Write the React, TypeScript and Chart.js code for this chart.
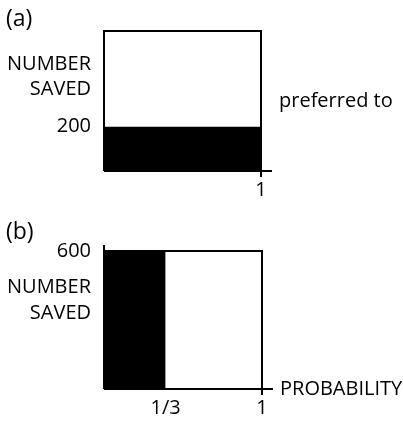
import React, { useEffect, useRef } from "react";
import { Chart, registerables } from "chart.js";

Chart.register(...registerables);

// ---- data ----
const PROB_RANGE = [0, 1];
const A_SAVED = [200];          // option (a): 200 saved for sure
const A_PROB = [1];             // probability 1
const A_FRAME_MAX = 632;        // top of the outline frame in (a)
const B_SAVED = [600];          // option (b): 600 saved
const B_PROB = [0.39];          // with probability ~1/3 (as drawn)
const A_Y_TICKS = ["200"];
const B_Y_TICKS = ["600"];
const A_X_TICKS = [{ value: 1, label: "1" }];
const B_X_TICKS = [
  { value: 0.39, label: "1/3" },
  { value: 1, label: "1" },
];

const FONT = "'Open Sans', 'DejaVu Sans', sans-serif";

type PanelSpec = {
  saved: number[];
  prob: number[];
  yMax: number;
  yTicks: string[];
  xTicks: { value: number; label: string }[];
  padding: { left: number; top: number; right: number; bottom: number };
  letter: string;
  letterY: number;
  nameYOffsets: number[];
  sideLabel: string;
  sideY: "mid" | "bottom";
  leftAxisExt: number;
};

const PANELS: PanelSpec[] = [
  {
    saved: A_SAVED,
    prob: A_PROB,
    yMax: A_FRAME_MAX,
    yTicks: A_Y_TICKS,
    xTicks: A_X_TICKS,
    padding: { left: 104, top: 31, right: 142, bottom: 254 },
    letter: "(a)",
    letterY: 19,
    nameYOffsets: [64, 89],
    sideLabel: "preferred to",
    sideY: "mid",
    leftAxisExt: 0,
  },
  {
    saved: B_SAVED,
    prob: B_PROB,
    yMax: B_SAVED[0],
    yTicks: B_Y_TICKS,
    xTicks: B_X_TICKS,
    padding: { left: 104, top: 251, right: 141, bottom: 36 },
    letter: "(b)",
    letterY: 232,
    nameYOffsets: [287, 313],
    sideLabel: "PROBABILITY",
    sideY: "bottom",
    leftAxisExt: 6,
  },
];

function makeChart(canvas: HTMLCanvasElement, p: PanelSpec) {
  const labelsPlugin = {
    id: "labels" + p.letter,
    afterDraw(chart: any) {
      const ctx = chart.ctx as CanvasRenderingContext2D;
      const area = chart.chartArea;
      const xs = chart.scales.x;
      const ys = chart.scales.y;
      ctx.save();
      ctx.strokeStyle = "#000";
      ctx.lineWidth = 2;
      // axis extensions and ticks
      const tx = xs.getPixelForValue(PROB_RANGE[1]);
      ctx.beginPath();
      ctx.moveTo(tx, area.bottom);
      ctx.lineTo(tx + 11, area.bottom);
      ctx.stroke();
      ctx.beginPath();
      ctx.moveTo(tx, area.bottom);
      ctx.lineTo(tx, area.bottom + 6);
      ctx.stroke();
      if (p.leftAxisExt) {
        ctx.beginPath();
        ctx.moveTo(area.left, area.top);
        ctx.lineTo(area.left, area.top - p.leftAxisExt);
        ctx.stroke();
      }
      ctx.fillStyle = "#000";
      ctx.textBaseline = "middle";
      // letter
      ctx.font = `23px ${FONT}`;
      ctx.textAlign = "left";
      ctx.fillText(p.letter, 6, p.letterY);
      ctx.font = `20px ${FONT}`;
      // y labels
      ctx.textAlign = "right";
      ctx.fillText("NUMBER", area.left - 13, p.nameYOffsets[0]);
      ctx.fillText("SAVED", area.left - 13, p.nameYOffsets[1]);
      p.yTicks.forEach((t) => {
        ctx.fillText(t, area.left - 13, ys.getPixelForValue(Number(t)));
      });
      // x labels
      ctx.textAlign = "center";
      p.xTicks.forEach((t) => {
        ctx.fillText(t.label, xs.getPixelForValue(t.value), area.bottom + 19);
      });
      // side label
      ctx.textAlign = "left";
      const sy = p.sideY === "mid" ? (area.top + area.bottom) / 2 : area.bottom;
      ctx.fillText(p.sideLabel, area.right + 18, sy);
      ctx.restore();
    },
  };

  return new Chart(canvas, {
    type: "scatter",
    data: {
      datasets: [
        {
          label: "frame",
          data: [
            { x: PROB_RANGE[0], y: 0 },
            { x: PROB_RANGE[0], y: p.yMax },
            { x: PROB_RANGE[1], y: p.yMax },
            { x: PROB_RANGE[1], y: 0 },
            { x: PROB_RANGE[0], y: 0 },
          ],
          showLine: true,
          borderColor: "#000",
          borderWidth: 2,
          pointRadius: 0,
          fill: false,
          clip: false,
        } as any,
        {
          label: "saved",
          data: [
            { x: PROB_RANGE[0], y: p.saved[0] },
            { x: p.prob[0], y: p.saved[0] },
          ],
          showLine: true,
          borderColor: "#000",
          borderWidth: 0,
          backgroundColor: "#000",
          pointRadius: 0,
          fill: "origin",
          clip: false,
        } as any,
      ],
    },
    options: {
      responsive: false,
      animation: false,
      devicePixelRatio: 1,
      layout: { padding: p.padding },
      plugins: {
        legend: { display: false },
        tooltip: { enabled: false },
        title: { display: false },
      },
      scales: {
        x: { type: "linear", min: PROB_RANGE[0], max: PROB_RANGE[1], display: false },
        y: { type: "linear", min: 0, max: p.yMax, display: false },
      },
    },
    plugins: [labelsPlugin],
  } as any);
}

export default function App() {
  const refA = useRef<HTMLCanvasElement>(null);
  const refB = useRef<HTMLCanvasElement>(null);
  useEffect(() => {
    const charts = [
      makeChart(refA.current!, PANELS[0]),
      makeChart(refB.current!, PANELS[1]),
    ];
    return () => charts.forEach((c) => c.destroy());
  }, []);
  const cs: React.CSSProperties = { position: "absolute", left: 0, top: 0 };
  return (
    <div style={{ position: "absolute", left: 0, top: 0, width: 403, height: 425, background: "#fff" }}>
      <canvas ref={refA} width={403} height={425} style={cs} />
      <canvas ref={refB} width={403} height={425} style={cs} />
    </div>
  );
}
